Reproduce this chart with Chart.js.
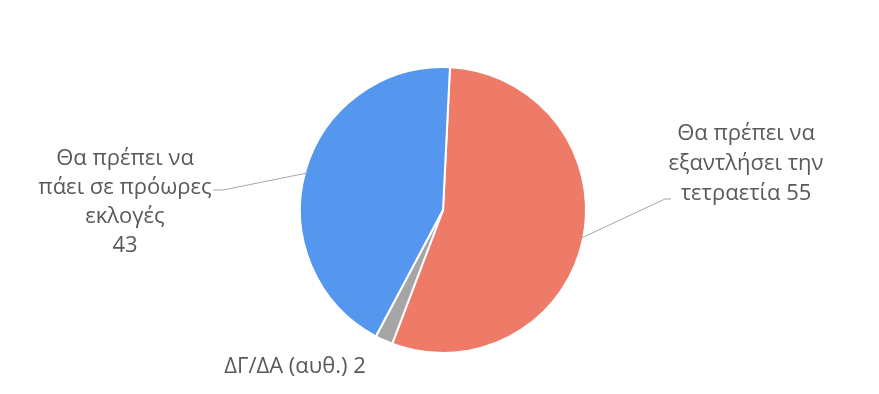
<!DOCTYPE html>
<html>
<head>
<meta charset="utf-8">
<script src="https://cdn.jsdelivr.net/npm/chart.js@4"></script>
<style>
  html, body { margin: 0; padding: 0; background: #fff; }
  #wrap { width: 879px; height: 394px; position: relative; }
</style>
</head>
<body>
<div id="wrap"><canvas id="pita"></canvas></div>
<script>
/* dades */
const categories = ["Θα πρέπει να εξαντλήσει την τετραετία", "ΔΓ/ΔΑ (αυθ.)", "Θα πρέπει να πάει σε πρόωρες εκλογές"];
const values = [55, 2, 43];
const colors = ["#EE7B68", "#A5A5A5", "#5596EE"];

/* label lines, split as in the picture */
const labelLines = [
  ["Θα πρέπει να", "εξαντλήσει την", "τετραετία 55"],
  ["ΔΓ/ΔΑ (αυθ.) 2"],
  ["Θα πρέπει να", "πάει σε πρόωρες", "εκλογές", "43"]
];

/* label layout: centre x, first baseline y, elbow of leader line */
const labelPos = [
  { x: 746, y: 140, gap: 30, elbow: [665, 199], end: [671, 199] },
  { x: 295, y: 373, gap: 30, elbow: null },
  { x: 125, y: 165, gap: 29, elbow: [223, 190], end: [213, 190] }
];

const labelsPlugin = {
  id: "etiquetes",
  afterDraw(chart) {
    const ctx = chart.ctx;
    const meta = chart.getDatasetMeta(0);
    ctx.save();
    ctx.font = "22px 'Open Sans'";
    ctx.fillStyle = "#595959";
    ctx.textAlign = "center";
    ctx.textBaseline = "alphabetic";
    meta.data.forEach((arc, i) => {
      const p = labelPos[i];
      labelLines[i].forEach((t, k) => ctx.fillText(t, p.x, p.y + k * p.gap));
      if (p.elbow) {
        const mid = (arc.startAngle + arc.endAngle) / 2;
        const ax = arc.x + Math.cos(mid) * (arc.outerRadius - 3);
        const ay = arc.y + Math.sin(mid) * (arc.outerRadius - 3);
        ctx.strokeStyle = "#A6A6A6";
        ctx.lineWidth = 1;
        ctx.beginPath();
        ctx.moveTo(ax, ay);
        ctx.lineTo(p.elbow[0], p.elbow[1]);
        ctx.lineTo(p.end[0], p.end[1]);
        ctx.stroke();
      }
    });
    ctx.restore();
  }
};

new Chart(document.getElementById("pita"), {
  type: "pie",
  data: {
    labels: categories,
    datasets: [{
      data: values,
      backgroundColor: colors,
      borderColor: "#ffffff",
      borderWidth: 2,
      hoverOffset: 0
    }]
  },
  options: {
    responsive: true,
    maintainAspectRatio: false,
    animation: false,
    rotation: 2.8,
    layout: { padding: { top: 66, bottom: 40, left: 299, right: 292 } },
    plugins: {
      legend: { display: false },
      tooltip: { enabled: false }
    }
  },
  plugins: [labelsPlugin]
});
</script>
</body>
</html>
